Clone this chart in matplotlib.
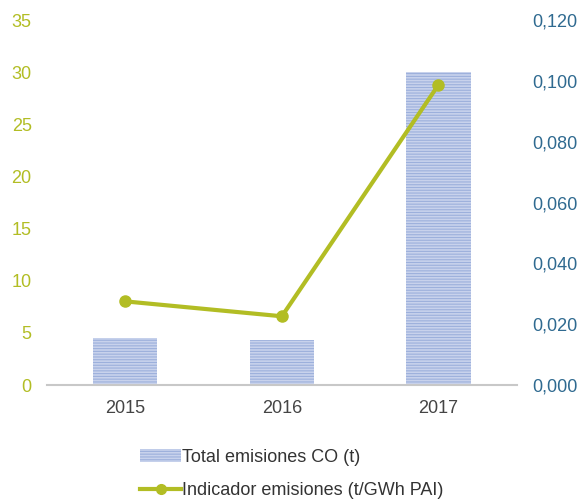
import numpy as np
import matplotlib.pyplot as plt
from matplotlib.lines import Line2D
from matplotlib.patches import Patch

plt.rcParams['font.family'] = ['Liberation Sans', 'DejaVu Sans']
plt.rcParams['hatch.linewidth'] = 0.8

years = ['2015', '2016', '2017']
total_co = [4.5, 4.3, 30.0]
indicador = [0.0275, 0.0226, 0.0987]

green = '#b2bd24'
blue = '#2f6a90'

fig = plt.figure(figsize=(5.8, 5.01), dpi=100)
ax = fig.add_axes([0.081, 0.2315, 0.81, 0.7285])
x = np.arange(len(years))

ax.bar(x, total_co, width=0.41, color='#c8d2ec', edgecolor='#9cb0dc',
       hatch='------', linewidth=0)
ax.set_xlim(-0.5, 2.5)
ax.set_ylim(0, 35)
ax.set_yticks(range(0, 36, 5))
ax.set_xticks(x, years)
ax.tick_params(axis='y', colors=green, labelsize=13, length=0, pad=11)
ax.tick_params(axis='x', colors='#444444', labelsize=13, length=0, pad=11)
for s in ['top', 'right', 'left']:
    ax.spines[s].set_visible(False)
ax.spines['bottom'].set_color('#c8c8c8')
ax.spines['bottom'].set_linewidth(1.5)

ax2 = ax.twinx()
ax2.plot(x, indicador, color=green, lw=3, marker='o', ms=8)
ax2.set_ylim(0, 0.12)
ax2.set_yticks(np.arange(0, 0.121, 0.02))
ax2.set_yticklabels([f'{v:.3f}'.replace('.', ',') for v in np.arange(0, 0.121, 0.02)])
ax2.tick_params(axis='y', colors=blue, labelsize=13, length=0, pad=11)
for s in ax2.spines.values():
    s.set_visible(False)

handles = [Patch(facecolor='#c8d2ec', edgecolor='#9cb0dc', hatch='------', linewidth=0),
           Line2D([], [], color=green, lw=3, marker='o', ms=7)]
labels = ['Total emisiones CO (t)', 'Indicador emisiones (t/GWh PAI)']
fig.legend(handles, labels, loc='upper left', bbox_to_anchor=(0.241, 0.104),
           frameon=False, fontsize=13, labelcolor='#333333', handlelength=2.3,
           handletextpad=0.05, labelspacing=0.9, borderaxespad=0,
           borderpad=0)

fig.savefig('out.png', dpi=100)
